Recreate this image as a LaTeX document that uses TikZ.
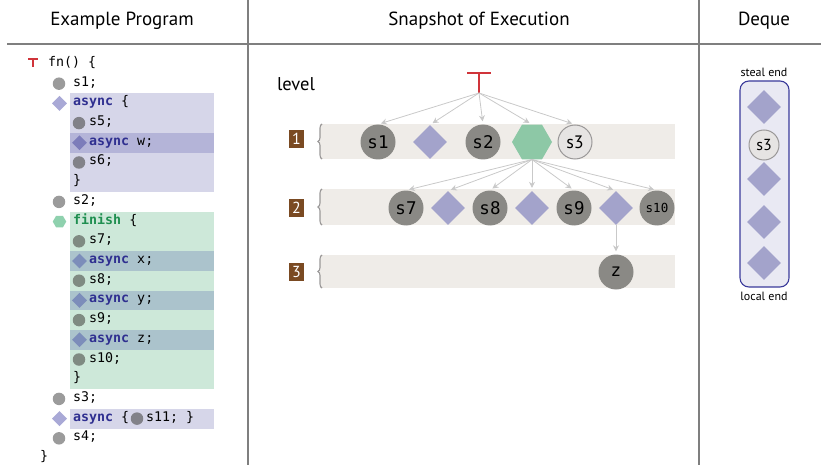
\documentclass[tikz,border=0pt]{standalone}
\usepackage{fontspec}
\setmainfont{PT Sans}
\setmonofont{DejaVu Sans Mono}
\usetikzlibrary{shapes.geometric,arrows.meta,decorations.pathreplacing}

\definecolor{rulegray}{HTML}{7F7F7F}
\definecolor{rootred}{HTML}{D0343A}
\definecolor{bandbg}{HTML}{EFECE8}
\definecolor{stepgray}{HTML}{8A8985}
\definecolor{asyncpurple}{HTML}{A3A3CB}
\definecolor{finishgreen}{HTML}{8DC8A6}
\definecolor{waitfill}{HTML}{E6E4E3}
\definecolor{waitedge}{HTML}{9A9898}
\definecolor{badgebrown}{HTML}{7A4A22}
\definecolor{edgegray}{HTML}{C9C9C9}
\definecolor{dequeedge}{HTML}{3B3B9B}
\definecolor{dequefill}{HTML}{E9E9F3}
\definecolor{asyncbg}{HTML}{D6D6E9}
\definecolor{asyncrow}{HTML}{B4B4D8}
\definecolor{finishbg}{HTML}{CDE8D9}
\definecolor{finishrow}{HTML}{ABC3CC}
\definecolor{bulletgray}{HTML}{9B9B9B}
\definecolor{bulletpurple}{HTML}{A9A9D6}
\definecolor{bulletgreen}{HTML}{8FD1AE}
\definecolor{innergray}{HTML}{828289}
\definecolor{innerpurple}{HTML}{7C7CBA}
\definecolor{finishgray}{HTML}{7F8B82}
\definecolor{finishblue}{HTML}{7C8DBA}
\definecolor{kwasync}{HTML}{2F2F90}
\definecolor{kwfinish}{HTML}{1F8F50}

\newcommand{\kwA}{\textcolor{kwasync}{\bfseries async}}
\newcommand{\kwF}{\textcolor{kwfinish}{\bfseries finish}}

\begin{document}
\begin{tikzpicture}[x=1pt,y=-1pt,
  rule/.style={draw=rulegray,line width=1.3pt},
  header/.style={font=\fontsize{19}{22}\selectfont,inner sep=0},
  code/.style={font=\ttfamily\fontsize{13.3}{16}\selectfont,anchor=mid west,inner sep=0},
  cdot/.style={circle,inner sep=0,minimum size=12.5,fill=#1},
  cdia/.style={diamond,inner sep=0,minimum width=15,minimum height=15,fill=#1},
  chex/.style={regular polygon,regular polygon sides=6,inner sep=0,minimum size=13.5,fill=bulletgreen},
  stepnode/.style={circle,inner sep=0,minimum size=35,fill=stepgray,
    font=\ttfamily\fontsize{17.5}{20}\selectfont},
  waitnode/.style={circle,inner sep=0,minimum size=34,fill=waitfill,draw=waitedge,line width=1pt,
    font=\fontsize{18}{20}\selectfont},
  asyncnode/.style={diamond,inner sep=0,minimum width=34,minimum height=34,fill=asyncpurple},
  finishnode/.style={regular polygon,regular polygon sides=6,inner sep=0,minimum size=40,fill=finishgreen},
  band/.style={fill=bandbg},
  badge/.style={fill=badgebrown,text=white,inner sep=0,minimum width=15,minimum height=18,
    font=\fontsize{16}{18}\selectfont},
  lvlbrace/.style={draw=waitedge,line width=1.1pt,decorate,decoration={brace,amplitude=4pt}},
  edge/.style={draw=edgegray,line width=0.8pt,-{Stealth[length=6pt,width=6pt]},shorten >=3pt},
  small/.style={font=\fontsize{12}{14}\selectfont,inner sep=0}
]
\useasboundingbox (0,0) rectangle (821,465);

% ---------- frame ----------
\draw[rule] (7,44) -- (821,44);
\draw[rule] (248,0) -- (248,465);
\draw[rule] (699,0) -- (699,465);
\node[header] (hprog) at (122,21) {Example Program};
\node[header] (hsnap) at (479,21) {Snapshot of Execution};
\node[header] (hdeq) at (764,21) {Deque};

% ---------- program listing: highlighted blocks ----------
\fill[asyncbg] (70,93.5) rectangle (214,192);
\fill[asyncrow] (70,133) rectangle (214,152.7);
\fill[finishbg] (70,211.7) rectangle (214,389);
\fill[finishrow] (70,251.1) rectangle (214,270.9);
\fill[finishrow] (70,290.5) rectangle (214,310.3);
\fill[finishrow] (70,329.9) rectangle (214,349.7);
\fill[asyncbg] (70,408.7) rectangle (214,428.5);

% root marker of fn
\draw[rootred,line width=1.3pt] (28,59) -- (38,59) (33,59) -- (33,67);

% listing lines
\node[code] (l0) at (48,64) {fn() \{};
\node[cdot=bulletgray] (b1) at (59,83.7) {};
\node[code] (l1) at (73,83.7) {s1;};
\node[cdia=bulletpurple] (b2) at (59.5,103.4) {};
\node[code] (l2) at (73,103.4) {\kwA{} \{};
\node[cdot=innergray] (b3) at (79,123.1) {};
\node[code] (l3) at (89,123.1) {s5;};
\node[cdia=innerpurple] (b4) at (79.5,142.8) {};
\node[code] (l4) at (89,142.8) {\kwA{} w;};
\node[cdot=innergray] (b5) at (79,162.5) {};
\node[code] (l5) at (89,162.5) {s6;};
\node[code] (l6) at (73,182.2) {\}};
\node[cdot=bulletgray] (b7) at (59,201.9) {};
\node[code] (l7) at (73,201.9) {s2;};
\node[chex] (b8) at (59.5,221.6) {};
\node[code] (l8) at (73,221.6) {\kwF{} \{};
\node[cdot=finishgray] (b9) at (79,241.3) {};
\node[code] (l9) at (89,241.3) {s7;};
\node[cdia=finishblue] (b10) at (79.5,261) {};
\node[code] (l10) at (89,261) {\kwA{} x;};
\node[cdot=finishgray] (b11) at (79,280.7) {};
\node[code] (l11) at (89,280.7) {s8;};
\node[cdia=finishblue] (b12) at (79.5,300.4) {};
\node[code] (l12) at (89,300.4) {\kwA{} y;};
\node[cdot=finishgray] (b13) at (79,320.1) {};
\node[code] (l13) at (89,320.1) {s9;};
\node[cdia=finishblue] (b14) at (79.5,339.8) {};
\node[code] (l14) at (89,339.8) {\kwA{} z;};
\node[cdot=finishgray] (b15) at (79,359.5) {};
\node[code] (l15) at (89,359.5) {s10;};
\node[code] (l16) at (73,379.2) {\}};
\node[cdot=bulletgray] (b17) at (59,398.9) {};
\node[code] (l17) at (73,398.9) {s3;};
\node[cdia=bulletpurple] (b18) at (59.5,418.6) {};
\node[code] (l18) at (73,418.6) {\kwA{} \{};
\node[cdot=innergray] (b18s) at (137,418.6) {};
\node[code] (l18s) at (146,418.6) {s11; \}};
\node[cdot=bulletgray] (b19) at (59,438.3) {};
\node[code] (l19) at (73,438.3) {s4;};
\node[code] (l20) at (40,458) {\}};

% ---------- snapshot of execution ----------
\node[header,font=\fontsize{18.5}{22}\selectfont] (lvl) at (296,84) {level};

\fill[band] (320,124) rectangle (675,159);
\fill[band] (320,189) rectangle (675,225);
\fill[band] (320,255) rectangle (675,288);
\draw[lvlbrace] (322,159) -- (322,124);
\draw[lvlbrace] (322,225) -- (322,189);
\draw[lvlbrace] (322,288) -- (322,255);
\node[badge] (k1) at (296.5,139) {1};
\node[badge] (k2) at (296.5,208) {2};
\node[badge] (k3) at (296.5,272) {3};

% root of the computation
\coordinate (root) at (479,93);
\draw[rootred,line width=1.4pt] (467,73) -- (491,73) (479,73) -- (root);

% level 1
\node[stepnode] (s1) at (378,142) {s1};
\node[asyncnode] (a1) at (430,142) {};
\node[stepnode] (s2) at (483,142) {s2};
\node[finishnode] (f1) at (532,142) {};
\node[waitnode] (s3) at (575,142) {s3};

% level 2
\node[stepnode] (s7) at (406,208) {s7};
\node[asyncnode] (ax) at (448,208) {};
\node[stepnode] (s8) at (490,208) {s8};
\node[asyncnode] (ay) at (532,208) {};
\node[stepnode] (s9) at (574,208) {s9};
\node[asyncnode] (az) at (616,208) {};
\node[stepnode,font=\ttfamily\fontsize{12.5}{15}\selectfont] (s10) at (657,208) {s10};

% level 3
\node[stepnode] (z) at (616,272) {z};

% spawn / sequence edges
\foreach \t in {s1,a1,s2,f1,s3} \draw[edge] (root) -- (\t.north);
\foreach \t in {s7,ax,s8,ay,s9,az,s10} \draw[edge] (f1.south) -- (\t.north);
\draw[edge] (az.south) -- (z.north);

% ---------- deque ----------
\node[draw=dequeedge,fill=dequefill,line width=1.1pt,rounded corners=9pt,
  minimum width=49,minimum height=206,inner sep=0] (deque) at (764.5,184) {};
\node[small] (steal) at (764,72) {steal end};
\node[small] (local) at (764,296) {local end};
\node[asyncnode] (q1) at (764,107) {};
\node[waitnode,minimum size=30,font=\fontsize{16}{18}\selectfont] (q2) at (764,145) {s3};
\node[asyncnode] (q3) at (764,179) {};
\node[asyncnode] (q4) at (764,222) {};
\node[asyncnode] (q5) at (764,263) {};
\end{tikzpicture}
\end{document}
